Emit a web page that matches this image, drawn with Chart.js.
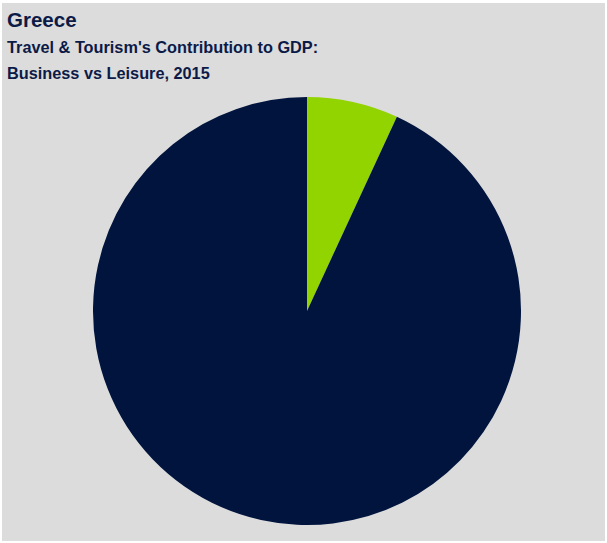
<!DOCTYPE html>
<html>
<head>
<meta charset="utf-8">
<script src="https://cdn.jsdelivr.net/npm/chart.js@4"></script>
<style>
  html, body { margin: 0; padding: 0; background: #fff; }
  .panel {
    position: absolute; left: 2px; top: 3px; width: 603px; height: 538px;
    background: #dcdcdc; font-family: Arial, "Liberation Sans", sans-serif;
    color: #0c1a47; font-weight: bold;
  }
  .title { position: absolute; left: 5px; top: 7px; font-size: 20.5px; line-height: 20px; }
  .sub { position: absolute; left: 5px; top: 31px; font-size: 16.3px; line-height: 26px; }
  .pie { position: absolute; left: 91px; top: 94px; width: 428px; height: 428px; }
</style>
</head>
<body>
<div class="panel">
  <div class="title">Greece</div>
  <div class="sub">Travel &amp; Tourism's Contribution to GDP:<br>Business vs Leisure, 2015</div>
  <div class="pie"><canvas id="gdpChart" width="428" height="428"></canvas></div>
</div>
<script>
// Share of travel & tourism GDP, 2015 (%)
const segments = ['Business', 'Leisure'];
const shares = [6.9, 93.1];
const sliceColors = ['#92d400', '#00143d'];

new Chart(document.getElementById('gdpChart'), {
  type: 'pie',
  data: {
    labels: segments,
    datasets: [{
      data: shares,
      backgroundColor: sliceColors,
      borderWidth: 0
    }]
  },
  options: {
    responsive: false,
    animation: false,
    layout: { padding: 0 },
    plugins: {
      legend: { display: false },
      tooltip: {
        callbacks: {
          label: function(context) {
            return context.label + ': ' + context.parsed + '%';
          }
        }
      }
    }
  }
});
</script>
</body>
</html>
